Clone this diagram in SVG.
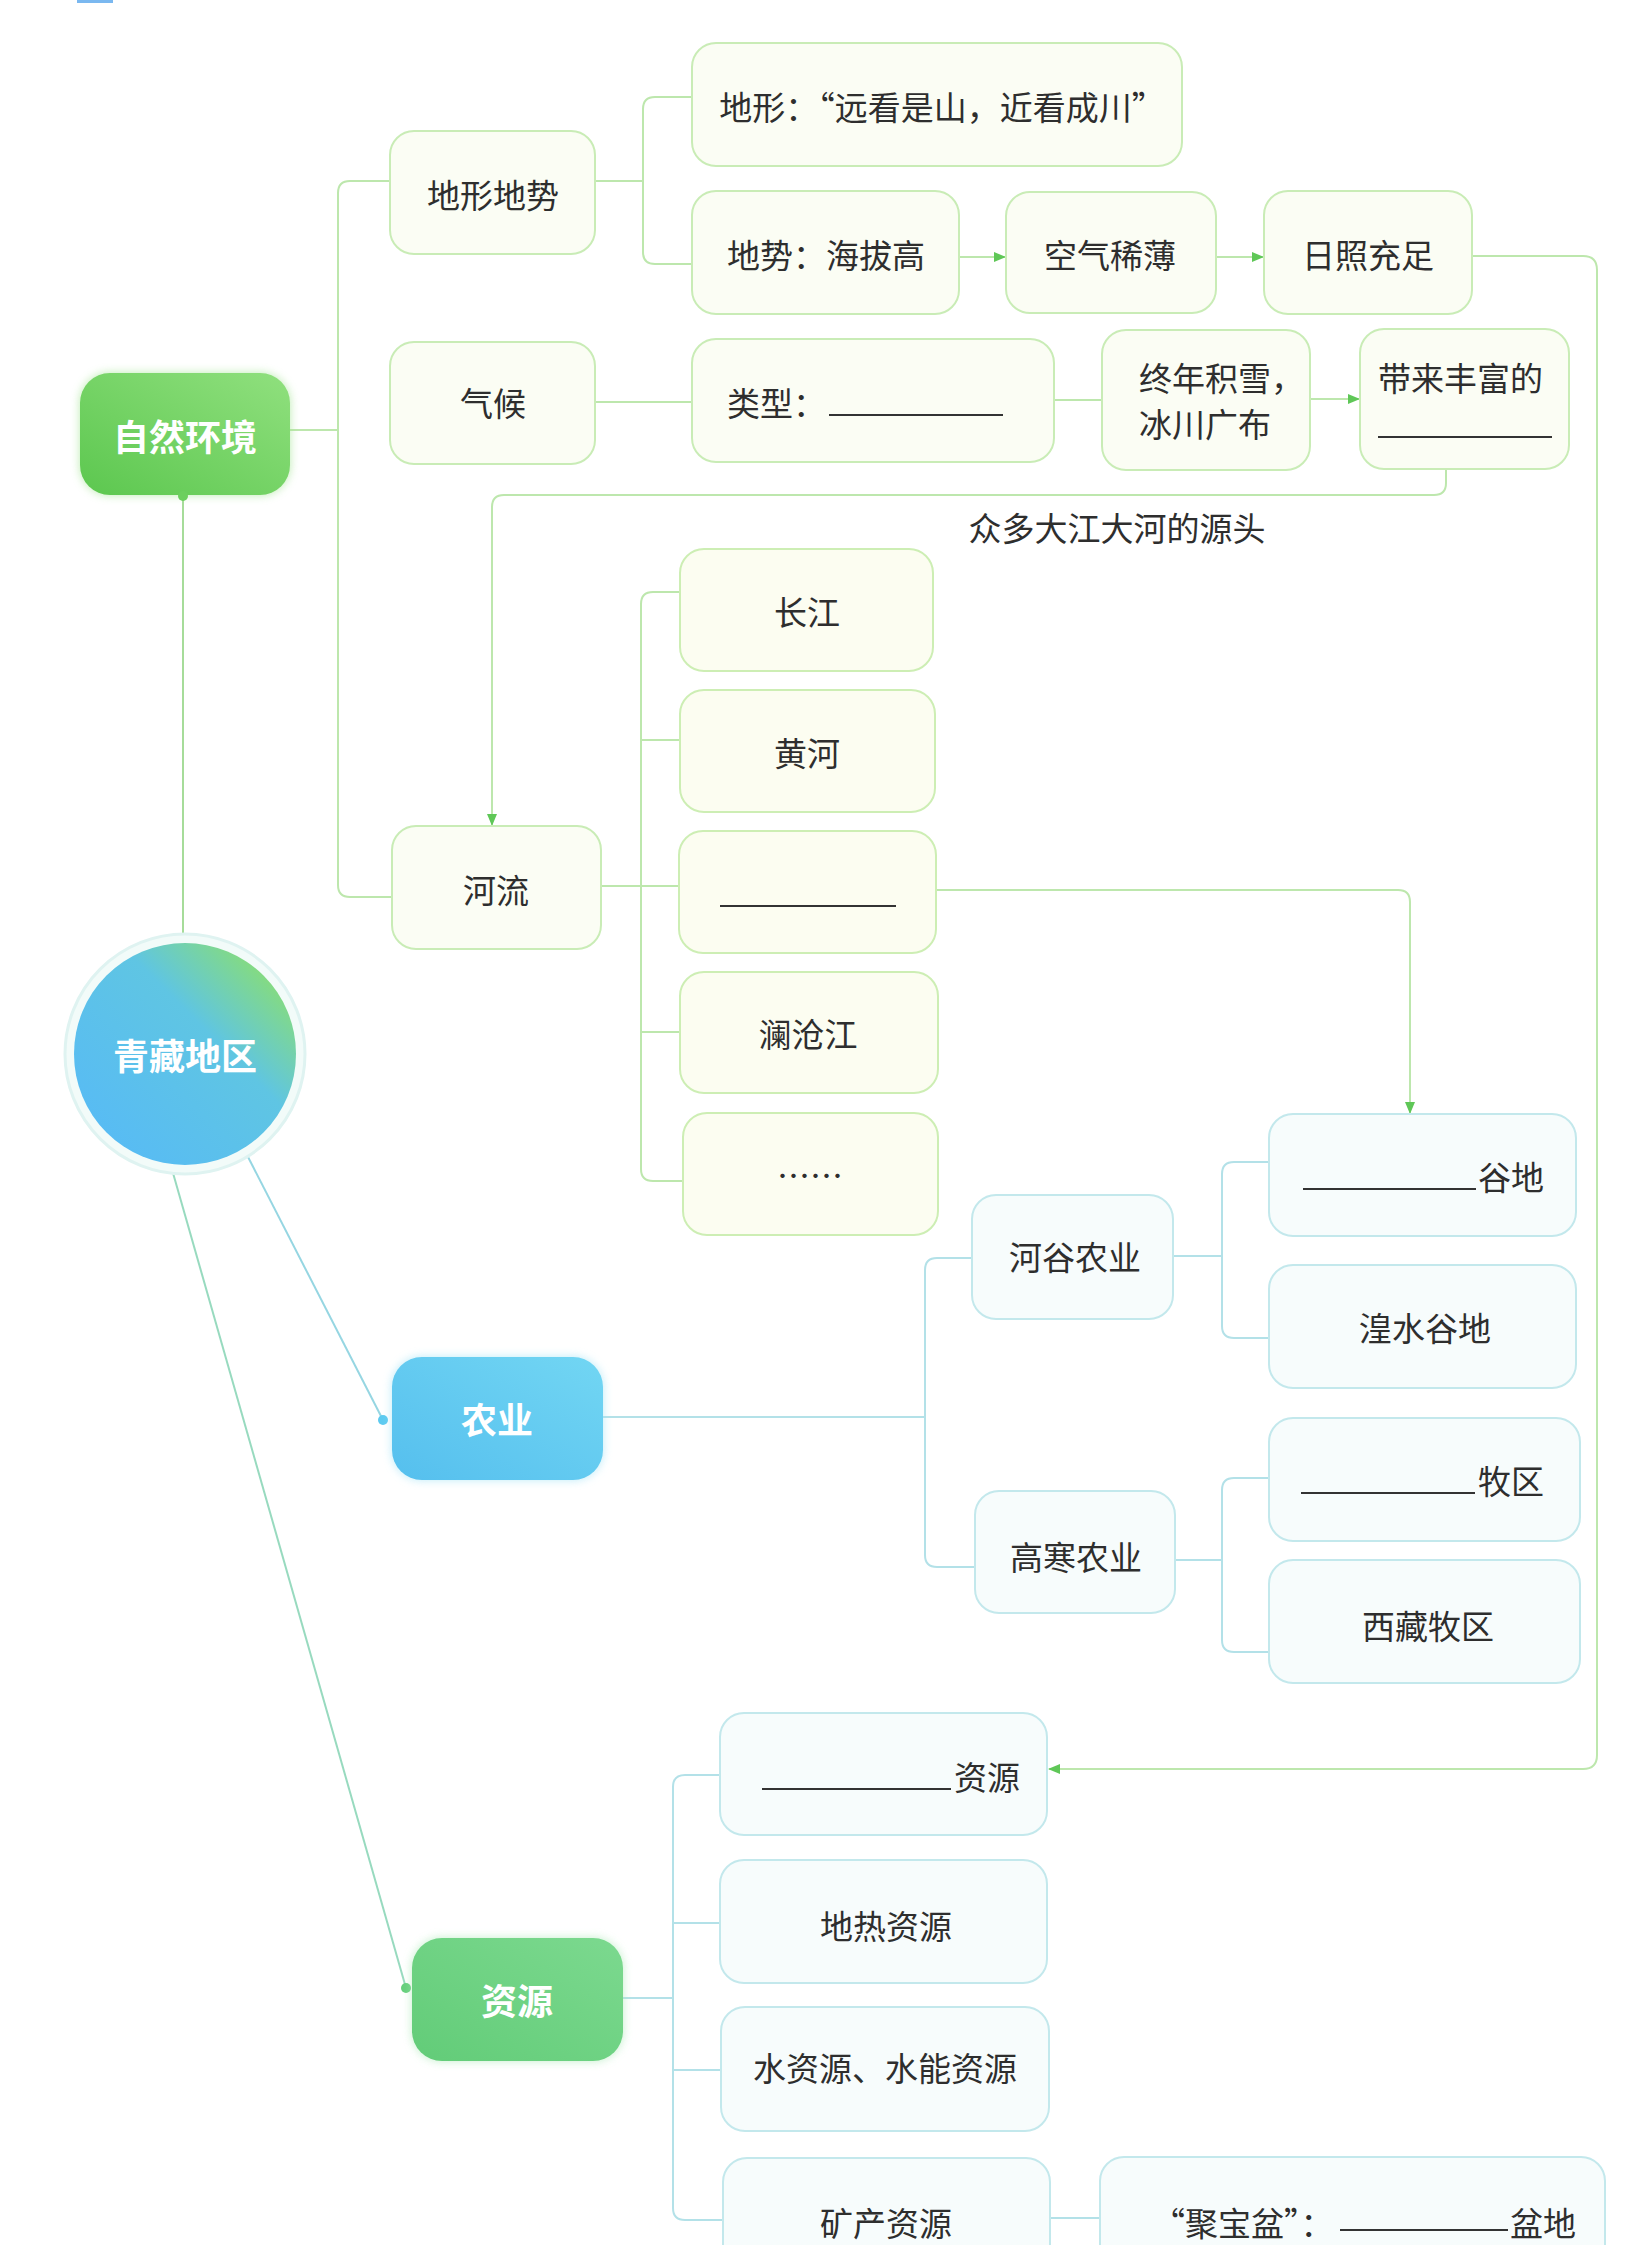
<svg xmlns="http://www.w3.org/2000/svg" width="1652" height="2245" viewBox="0 0 1652 2245">
<style>
  .t{font-family:"Noto Sans CJK SC","Noto Sans",sans-serif;font-size:33px;fill:#2e2e2e;dominant-baseline:central}
  .m{text-anchor:middle}
  .w{font-family:"Noto Sans CJK SC","Noto Sans",sans-serif;font-size:36px;font-weight:700;fill:#ffffff;text-anchor:middle;dominant-baseline:central}
  .gbox{fill:#fbfdf4;stroke:#c9ecb6;stroke-width:2}
  .rbox{fill:#fcfdf1;stroke:#cdeeb4;stroke-width:2}
  .bbox{fill:#f7fcfc;stroke:#c3e8ec;stroke-width:2}
  .gl{fill:none;stroke:#bde7ad;stroke-width:2}
  .bl{fill:none;stroke:#b3e1e8;stroke-width:2}
  .blank{stroke:#333;stroke-width:2.2}
</style>
<defs>
  <marker id="arr" viewBox="0 0 12 10" refX="11" refY="5" markerWidth="12" markerHeight="10" markerUnits="userSpaceOnUse" orient="auto">
    <path d="M0,0 L12,5 L0,10 Z" fill="#5fc757"/>
  </marker>
  <linearGradient id="gNat" x1="0" y1="1" x2="1" y2="0">
    <stop offset="0" stop-color="#5cc74f"/>
    <stop offset="1" stop-color="#90e07e"/>
  </linearGradient>
  <linearGradient id="gAgr" x1="0" y1="1" x2="1" y2="0">
    <stop offset="0" stop-color="#55bfee"/>
    <stop offset="1" stop-color="#72d6f3"/>
  </linearGradient>
  <linearGradient id="gRes" x1="0" y1="1" x2="1" y2="0">
    <stop offset="0" stop-color="#62cc78"/>
    <stop offset="1" stop-color="#7cd98f"/>
  </linearGradient>
  <linearGradient id="gHub" x1="0.15" y1="0.85" x2="0.9" y2="0.1">
    <stop offset="0" stop-color="#58bcf3"/>
    <stop offset="0.6" stop-color="#5fc5e3"/>
    <stop offset="1" stop-color="#8ade72"/>
  </linearGradient>
  <filter id="glow" x="-20%" y="-20%" width="140%" height="140%">
    <feGaussianBlur stdDeviation="5"/>
  </filter>
</defs>

<rect width="1652" height="2245" fill="#ffffff"/>
<rect x="77" y="0" width="36" height="3" fill="#7ab8f0"/>

<g id="connectors">
  <!-- main links -->
  <path d="M183,497 V943" fill="none" stroke="#a6dc9a" stroke-width="2"/>
  <path d="M247,1155 L383,1420" fill="none" stroke="#96d6e2" stroke-width="2"/>
  <path d="M173,1173 L406,1988" fill="none" stroke="#98dabf" stroke-width="2"/>
  <!-- natural environment -->
  <path class="gl" d="M290,430 H338"/>
  <path class="gl" d="M390,181 H350 Q338,181 338,193 V885 Q338,897 350,897 H392"/>
  <path class="gl" d="M595,181 H643"/>
  <path class="gl" d="M692,97 H655 Q643,97 643,109 V252 Q643,264 655,264 H692"/>
  <path class="gl" d="M959,257 H1005" marker-end="url(#arr)"/>
  <path class="gl" d="M1216,257 H1263" marker-end="url(#arr)"/>
  <path class="gl" d="M1472,256 H1583 Q1597,256 1597,270 V1755 Q1597,1769 1583,1769 H1049" marker-end="url(#arr)"/>
  <path class="gl" d="M595,402 H692"/>
  <path class="gl" d="M1054,400 H1102"/>
  <path class="gl" d="M1310,399 H1359" marker-end="url(#arr)"/>
  <path class="gl" d="M1446,469 V483 Q1446,495 1434,495 H504 Q492,495 492,507 V825" marker-end="url(#arr)"/>
  <path class="gl" d="M601,886 H680"/>
  <path class="gl" d="M680,592 H653 Q641,592 641,604 V1169 Q641,1181 653,1181 H683"/>
  <path class="gl" d="M641,740 H680"/>
  <path class="gl" d="M641,1032 H680"/>
  <path class="gl" d="M936,890 H1398 Q1410,890 1410,902 V1113" marker-end="url(#arr)"/>
  <!-- agriculture -->
  <path class="bl" d="M603,1417 H925"/>
  <path class="bl" d="M972,1258 H937 Q925,1258 925,1270 V1555 Q925,1567 937,1567 H975"/>
  <path class="bl" d="M1173,1256 H1222"/>
  <path class="bl" d="M1269,1162 H1234 Q1222,1162 1222,1174 V1326 Q1222,1338 1234,1338 H1269"/>
  <path class="bl" d="M1175,1560 H1222"/>
  <path class="bl" d="M1269,1478 H1234 Q1222,1478 1222,1490 V1640 Q1222,1652 1234,1652 H1269"/>
  <!-- resources -->
  <path class="bl" d="M623,1998 H673"/>
  <path class="bl" d="M720,1775 H685 Q673,1775 673,1787 V2208 Q673,2220 685,2220 H723"/>
  <path class="bl" d="M673,1923 H720"/>
  <path class="bl" d="M673,2070 H721"/>
  <path class="bl" d="M1050,2218 H1100"/>
  <circle cx="383" cy="1420" r="5" fill="#5ccaf0"/>
  <circle cx="406" cy="1988" r="5" fill="#66cf7c"/>
</g>

<g id="hub">
  <circle cx="185" cy="1054" r="120" fill="#f2fbf9" stroke="#dff3f1" stroke-width="3"/>
  <circle cx="185" cy="1054" r="111" fill="url(#gHub)"/>
  <text class="w" x="185" y="1054">青藏地区</text>
</g>

<g id="n-nature">
  <rect x="80" y="373" width="210" height="122" rx="30" fill="#9fe38e" filter="url(#glow)" opacity="0.7"/>
  <rect x="80" y="373" width="210" height="122" rx="30" fill="url(#gNat)"/>
  <circle cx="183" cy="496" r="5" fill="#6ccf5e"/>
  <text class="w" x="185" y="435">自然环境</text>
</g>
<g id="n-agri">
  <rect x="392" y="1357" width="211" height="123" rx="30" fill="#9ee2f6" filter="url(#glow)" opacity="0.7"/>
  <rect x="392" y="1357" width="211" height="123" rx="30" fill="url(#gAgr)"/>
  <text class="w" x="497" y="1418">农业</text>
</g>
<g id="n-res">
  <rect x="412" y="1938" width="211" height="123" rx="30" fill="#a8e8b4" filter="url(#glow)" opacity="0.7"/>
  <rect x="412" y="1938" width="211" height="123" rx="30" fill="url(#gRes)"/>
  <text class="w" x="517" y="1999">资源</text>
</g>

<g id="n-terrain">
  <rect class="gbox" x="390" y="131" width="205" height="123" rx="24"/>
  <text class="t m" x="493" y="194">地形地势</text>
</g>
<g id="n-landform">
  <rect class="gbox" x="692" y="43" width="490" height="123" rx="24"/>
  <text class="t m" x="942" y="106">地形：“远看是山，近看成川”</text>
</g>
<g id="n-altitude">
  <rect class="gbox" x="692" y="191" width="267" height="123" rx="24"/>
  <text class="t m" x="826" y="254">地势：海拔高</text>
</g>
<g id="n-air">
  <rect class="gbox" x="1006" y="192" width="210" height="121" rx="24"/>
  <text class="t m" x="1110" y="254">空气稀薄</text>
</g>
<g id="n-sun">
  <rect class="gbox" x="1264" y="191" width="208" height="123" rx="24"/>
  <text class="t m" x="1368" y="254">日照充足</text>
</g>
<g id="n-climate">
  <rect class="gbox" x="390" y="342" width="205" height="122" rx="24"/>
  <text class="t m" x="493" y="402">气候</text>
</g>
<g id="n-type">
  <rect class="gbox" x="692" y="339" width="362" height="123" rx="24"/>
  <text class="t" x="727" y="402">类型：</text>
  <line class="blank" x1="829" y1="415" x2="1003" y2="415"/>
</g>
<g id="n-snow">
  <rect class="gbox" x="1102" y="330" width="208" height="140" rx="24"/>
  <text class="t" x="1139" y="377">终年积雪，</text>
  <text class="t" x="1139" y="423">冰川广布</text>
</g>
<g id="n-bring">
  <rect class="gbox" x="1360" y="329" width="209" height="140" rx="24"/>
  <text class="t" x="1378" y="377">带来丰富的</text>
  <line class="blank" x1="1378" y1="437" x2="1552" y2="437"/>
</g>
<g id="label-source">
  <text class="t m" x="1117" y="527">众多大江大河的源头</text>
</g>

<g id="n-river">
  <rect class="gbox" x="392" y="826" width="209" height="123" rx="24"/>
  <text class="t m" x="496" y="889">河流</text>
</g>
<g id="n-yangtze">
  <rect class="rbox" x="680" y="549" width="253" height="122" rx="24"/>
  <text class="t m" x="807" y="611">长江</text>
</g>
<g id="n-yellow">
  <rect class="rbox" x="680" y="690" width="255" height="122" rx="24"/>
  <text class="t m" x="807" y="752">黄河</text>
</g>
<g id="n-blank-river">
  <rect class="rbox" x="679" y="831" width="257" height="122" rx="24"/>
  <line class="blank" x1="720" y1="906" x2="896" y2="906"/>
</g>
<g id="n-lancang">
  <rect class="rbox" x="680" y="972" width="258" height="121" rx="24"/>
  <text class="t m" x="808" y="1033">澜沧江</text>
</g>
<g id="n-etc">
  <rect class="rbox" x="683" y="1113" width="255" height="122" rx="24"/>
  <text class="t m" x="810" y="1174">……</text>
</g>

<g id="n-valleyag">
  <rect class="bbox" x="972" y="1195" width="201" height="124" rx="24"/>
  <text class="t m" x="1075" y="1256">河谷农业</text>
</g>
<g id="n-alpineag">
  <rect class="bbox" x="975" y="1491" width="200" height="122" rx="24"/>
  <text class="t m" x="1076" y="1556">高寒农业</text>
</g>
<g id="n-valley1">
  <rect class="bbox" x="1269" y="1114" width="307" height="122" rx="24"/>
  <line class="blank" x1="1303" y1="1189" x2="1476" y2="1189"/>
  <text class="t" x="1478" y="1176">谷地</text>
</g>
<g id="n-huangshui">
  <rect class="bbox" x="1269" y="1265" width="307" height="123" rx="24"/>
  <text class="t m" x="1425" y="1327">湟水谷地</text>
</g>
<g id="n-pasture1">
  <rect class="bbox" x="1269" y="1418" width="311" height="123" rx="24"/>
  <line class="blank" x1="1301" y1="1493" x2="1475" y2="1493"/>
  <text class="t" x="1478" y="1480">牧区</text>
</g>
<g id="n-tibetpasture">
  <rect class="bbox" x="1269" y="1560" width="311" height="123" rx="24"/>
  <text class="t m" x="1428" y="1625">西藏牧区</text>
</g>

<g id="n-res1">
  <rect class="bbox" x="720" y="1713" width="327" height="122" rx="24"/>
  <line class="blank" x1="762" y1="1789" x2="951" y2="1789"/>
  <text class="t" x="954" y="1776">资源</text>
</g>
<g id="n-geothermal">
  <rect class="bbox" x="720" y="1860" width="327" height="123" rx="24"/>
  <text class="t m" x="886" y="1925">地热资源</text>
</g>
<g id="n-water">
  <rect class="bbox" x="721" y="2007" width="328" height="124" rx="24"/>
  <text class="t m" x="885" y="2067">水资源、水能资源</text>
</g>
<g id="n-mineral">
  <rect class="bbox" x="723" y="2158" width="327" height="123" rx="24"/>
  <text class="t m" x="886" y="2222">矿产资源</text>
</g>
<g id="n-treasure">
  <rect class="bbox" x="1100" y="2157" width="505" height="123" rx="24"/>
  <text class="t" x="1152" y="2222">“聚宝盆”：</text>
  <line class="blank" x1="1340" y1="2230" x2="1508" y2="2230"/>
  <text class="t" x="1510" y="2222">盆地</text>
</g>
</svg>
